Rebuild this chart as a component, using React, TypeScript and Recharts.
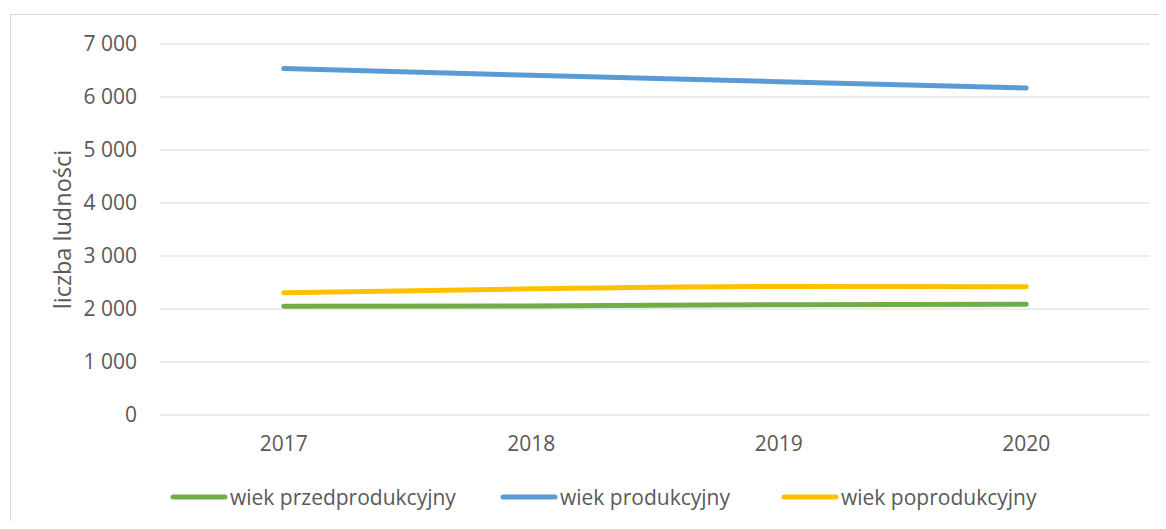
import React from 'react';
import { LineChart, Line, XAxis, YAxis, CartesianGrid } from 'recharts';

const years = ['2017', '2018', '2019', '2020'];
const przedprodukcyjny = [2050, 2058, 2080, 2088];
const produkcyjny = [6536, 6410, 6290, 6170];
const poprodukcyjny = [2305, 2380, 2425, 2420];
const yTicks = [0, 1000, 2000, 3000, 4000, 5000, 6000, 7000];

const series = [
  { key: 'przed', name: 'wiek przedprodukcyjny', color: '#70AD47' },
  { key: 'prod', name: 'wiek produkcyjny', color: '#5B9BD5' },
  { key: 'po', name: 'wiek poprodukcyjny', color: '#FFC000' },
];

// left edge of each legend entry
const legendLeft = [170, 500, 781];

const data = years.map((year, i) => ({
  year,
  przed: przedprodukcyjny[i],
  prod: produkcyjny[i],
  po: poprodukcyjny[i],
}));

const font = '"Open Sans", sans-serif';
const textColor = '#595959';

const fmt = (v: number) => String(v).replace(/\B(?=(\d{3})+(?!\d))/g, ' ');

export default function App() {
  return (
    <div style={{ position: 'relative', width: 1166, height: 529, margin: -8, overflow: 'hidden', background: '#fff', fontFamily: font }}>
      <div style={{ position: 'absolute', left: 10, top: 14, width: 1200, height: 600, border: '1px solid #d9d9d9' }} />
      <LineChart
        width={1166}
        height={529}
        data={data}
        margin={{ top: 44, right: 16, bottom: 84, left: 0 }}
        style={{ position: 'absolute', left: 0, top: 0 }}
      >
        <CartesianGrid vertical={false} stroke="#d9d9d9" strokeWidth={1.2} />
        <XAxis
          dataKey="year"
          height={30}
          padding={{ left: 123.75, right: 123.75 }}
          axisLine={false}
          tickLine={false}
          tickSize={0}
          tickMargin={21}
          tick={{ fill: textColor, fontSize: 21, fontFamily: font }}
        />
        <YAxis
          width={160}
          domain={[0, 7000]}
          ticks={yTicks}
          interval={0}
          tickFormatter={fmt}
          axisLine={false}
          tickLine={false}
          tickSize={0}
          tickMargin={23}
          tick={{ fill: textColor, fontSize: 21, fontFamily: font }}
          label={{
            value: 'liczba ludności',
            angle: -90,
            position: 'center',
            dx: -17,
            style: { fill: textColor, fontSize: 23.5, fontFamily: font },
          }}
        />
        {series.map((s) => (
          <Line
            key={s.key}
            type="monotone"
            dataKey={s.key}
            name={s.name}
            stroke={s.color}
            strokeWidth={5}
            strokeLinecap="round"
            dot={false}
            activeDot={false}
            isAnimationActive={false}
          />
        ))}
      </LineChart>
      {series.map((s, i) => (
        <div key={s.key} style={{ position: 'absolute', left: legendLeft[i], top: 483, height: 28, display: 'flex', alignItems: 'center' }}>
          <svg width={58} height={8} style={{ display: 'block' }}>
            <line x1={3} y1={4} x2={55} y2={4} stroke={s.color} strokeWidth={5} strokeLinecap="round" />
          </svg>
          <span style={{ color: textColor, fontSize: 21, marginLeft: 2, whiteSpace: 'nowrap' }}>{s.name}</span>
        </div>
      ))}
    </div>
  );
}
